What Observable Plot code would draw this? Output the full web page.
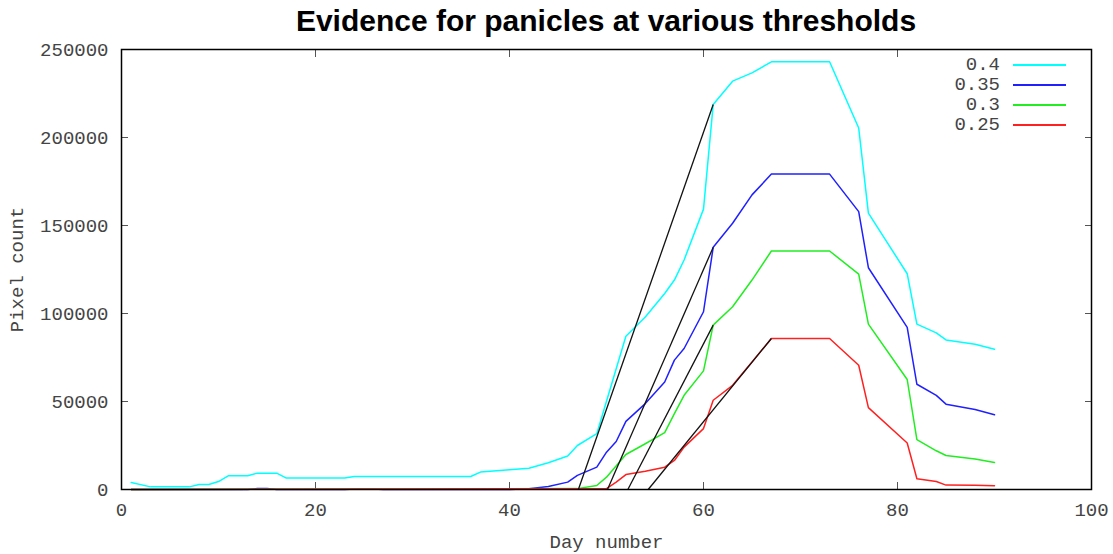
<!DOCTYPE html>
<html><head><meta charset="utf-8">
<script src="https://cdn.jsdelivr.net/npm/d3@7"></script>
<script src="https://cdn.jsdelivr.net/npm/@observablehq/plot@0.6"></script>
<style>
body{margin:0;background:#fff;}
#wrap{position:relative;width:1113px;height:554px;overflow:hidden;}
#title{position:absolute;left:0;top:3px;width:1212px;text-align:center;font:bold 30px "Liberation Sans",Arial,sans-serif;color:#000;line-height:36px;}
#chart{position:absolute;left:0;top:40px;}
#legend{position:absolute;left:900px;top:55px;font:19px/20px "Liberation Mono",monospace;color:#444;}
#legend .row{height:20px;display:flex;align-items:center;justify-content:flex-end;}
#legend .row span{display:inline-block;width:100px;text-align:right;margin-right:13px;line-height:20px;}
#legend .row b{display:inline-block;width:53px;height:2px;}
</style></head>
<body><div id="wrap"><div id="title">Evidence for panicles at various thresholds</div><div id="chart"></div><div id="legend"></div></div>
<script>
const seriesNames = ["0.4", "0.35", "0.3", "0.25"];
const seriesColors = ["#00ffff", "#2020ff", "#20ee20", "#ff2020"];

const days04 = [1,3,7,8,9,10,11,13,14,16,17,23,24,36,37,40,42,44,46,47,49,52,54,56,57,58,60,61,63,65,67,73,76,77,81,82,84,85,88,90];
const vals04 = [4000,1500,1500,2800,2800,4500,7800,7800,9300,9300,6500,6500,7400,7400,9900,11200,12100,15200,19000,25000,31700,87100,98000,111400,119000,130400,159300,218700,232000,236700,243000,243000,205400,157000,122600,94000,89000,85000,82500,79700];

const days035 = [1,13,14,15,16,23,24,26,27,40,42,44,46,47,49,50,51,52,54,56,57,58,60,61,63,65,67,73,76,77,81,82,84,85,88,90];
const vals035 = [0,0,500,500,0,0,300,300,0,0,400,1700,4200,8000,12700,21200,27300,38700,48800,61100,73500,80100,101000,137600,151300,167400,179200,179200,157900,126000,92100,59800,53500,48500,45500,42500];

const days03 = [1,47,49,50,52,54,56,57,58,60,61,63,65,67,73,76,77,81,82,84,85,88,90];
const vals03 = [0,500,2300,7000,19900,26000,32300,43100,53500,67400,93400,103800,119000,135500,135500,122400,94000,62500,28300,22000,19300,17300,15300];

const days025 = [1,50,51,52,54,56,57,58,60,61,63,65,67,73,76,77,81,82,84,85,88,90];
const vals025 = [0,500,4200,8500,10400,12700,16500,24100,34600,50700,59200,72500,85800,85800,70600,46500,26400,6100,4500,2500,2400,2200];

// black fit lines: start day (at zero) and end point
const fitStartDay = [47.1, 50.1, 52.2, 54.3];
const fitEndDay = [61, 61, 61, 67];
const fitEndVal = [218700, 137600, 93400, 85800];

const xTicks = [0, 20, 40, 60, 80, 100];
const yTicks = [0, 50000, 100000, 150000, 200000, 250000];

const allDays = [days04, days035, days03, days025];
const allVals = [vals04, vals035, vals03, vals025];
const rows = [];
seriesNames.forEach((s, i) => allDays[i].forEach((d, j) => rows.push({series: s, day: d, value: allVals[i][j]})));
const fits = fitStartDay.map((d, i) => ({x1: d, y1: 0, x2: fitEndDay[i], y2: fitEndVal[i]}));

const mono = '"Liberation Mono", monospace';
const plot = Plot.plot({
  width: 1113,
  height: 514,
  marginLeft: 121,
  marginRight: 22,
  marginTop: 9,
  marginBottom: 65,
  style: {fontFamily: mono, fontSize: "19px", color: "#444", background: "white"},
  x: {domain: [0, 100]},
  y: {domain: [0, 250000]},
  color: {domain: seriesNames, range: seriesColors},
  marks: [
    Plot.axisX({ticks: xTicks, tickFormat: d => String(d), tickSize: -7, tickPadding: 20, stroke: "#555", label: "Day number", labelAnchor: "center", labelArrow: false, labelOffset: 58, fill: "#444"}),
    Plot.axisX({anchor: "top", ticks: xTicks, tickSize: -7, text: null, label: null, stroke: "#555"}),
    Plot.axisY({ticks: yTicks, tickFormat: d => String(d), tickSize: -7, tickPadding: 20, stroke: "#555", label: "Pixel count", labelAnchor: "center", labelArrow: false, labelOffset: 112, fill: "#444"}),
    Plot.axisY({anchor: "right", ticks: yTicks, tickSize: -7, text: null, label: null, stroke: "#555"}),
    Plot.line(rows, {x: "day", y: "value", z: "series", stroke: "series", strokeWidth: 1.5}),
    Plot.link(fits, {x1: "x1", y1: "y1", x2: "x2", y2: "y2", stroke: "#111", strokeWidth: 1.3}),
    Plot.frame({stroke: "#000", strokeWidth: 1.5})
  ]
});
document.getElementById("chart").appendChild(plot);

const leg = document.getElementById("legend");
seriesNames.forEach((s, i) => {
  const r = document.createElement("div");
  r.className = "row";
  const sp = document.createElement("span");
  sp.textContent = s;
  const ln = document.createElement("b");
  ln.style.background = seriesColors[i];
  r.appendChild(sp);
  r.appendChild(ln);
  leg.appendChild(r);
});
</script></body></html>
